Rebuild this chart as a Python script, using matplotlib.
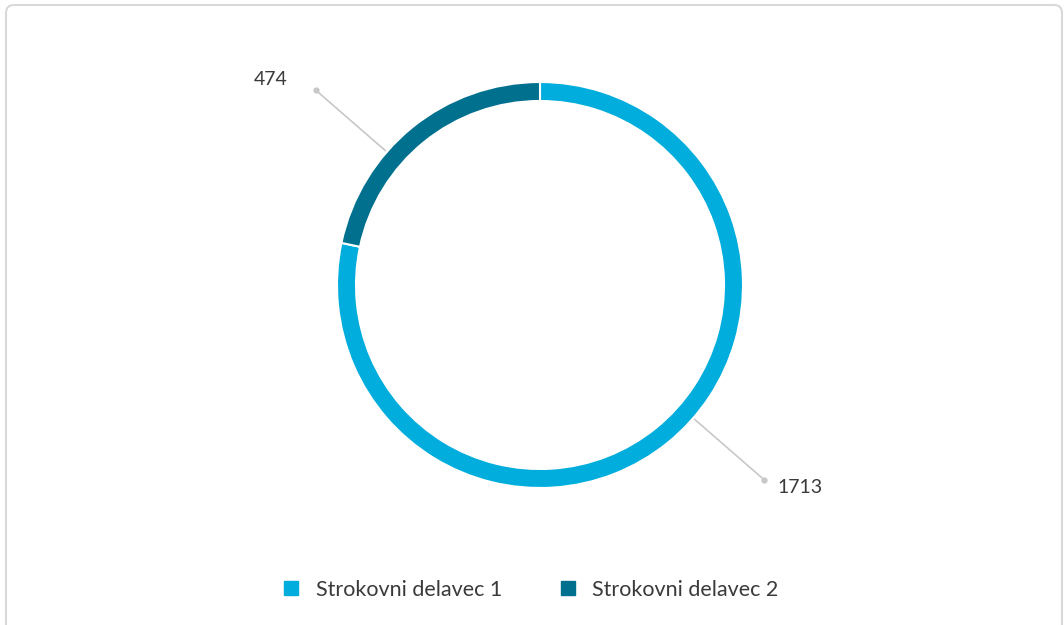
import numpy as np
import matplotlib
matplotlib.use("Agg")
import matplotlib.pyplot as plt
from matplotlib.patches import FancyBboxPatch
from matplotlib.lines import Line2D

plt.rcParams['font.family'] = ['Lato', 'DejaVu Sans']

labels = ["Strokovni delavec 1", "Strokovni delavec 2"]
values = [1713, 474]
colors = ["#00ADDC", "#00708F"]

W, H = 1064, 625
fig = plt.figure(figsize=(W / 100, H / 100), dpi=100)
ax = fig.add_axes([0, 0, 1, 1])

# card frame
frame = FancyBboxPatch((6, -20), 1056, 640, boxstyle="round,pad=0,rounding_size=8",
                       facecolor="white", edgecolor="#D9D9D9", linewidth=1.5, zorder=0)
ax.add_patch(frame)

cx, cy, r = 540, 340, 203
wedges, _ = ax.pie(values, colors=colors, startangle=90, counterclock=False,
                   radius=r, center=(cx, cy), frame=True,
                   wedgeprops=dict(width=19, edgecolor="white", linewidth=1.5))
ax.set_xlim(0, W)
ax.set_ylim(0, H)
ax.set_aspect("equal")
ax.axis("off")

# leader lines with value labels
for w, v in zip(wedges, values):
    ang = np.deg2rad((w.theta1 + w.theta2) / 2 + 10)
    x0, y0 = cx + 205 * np.cos(ang), cy + 205 * np.sin(ang)
    x1, y1 = cx + 297 * np.cos(ang), cy + 297 * np.sin(ang)
    ax.plot([x0, x1], [y0, y1], color="#C8C8C8", lw=1.2, zorder=3)
    ax.plot(x1, y1, "o", color="#C8C8C8", ms=3.5, zorder=3)
    if np.cos(ang) < 0:
        ax.text(x1 - 28, y1 + 11, str(v), ha="right", va="center",
                fontsize=14, color="#3a3a3a")
    else:
        ax.text(x1 + 13, y1 - 8, str(v), ha="left", va="center",
                fontsize=14, color="#3a3a3a")

handles = [Line2D([], [], marker="s", ls="", color=c, markersize=10) for c in colors]
leg = ax.legend(handles, labels, loc="center", bbox_to_anchor=(531 / W, 1 - 590 / H),
                ncol=2, frameon=False, fontsize=15.5, handlelength=0.7,
                handletextpad=0.8, columnspacing=2.7)
for t in leg.get_texts():
    t.set_color("#3a3a3a")

fig.savefig("out.png", dpi=100)
